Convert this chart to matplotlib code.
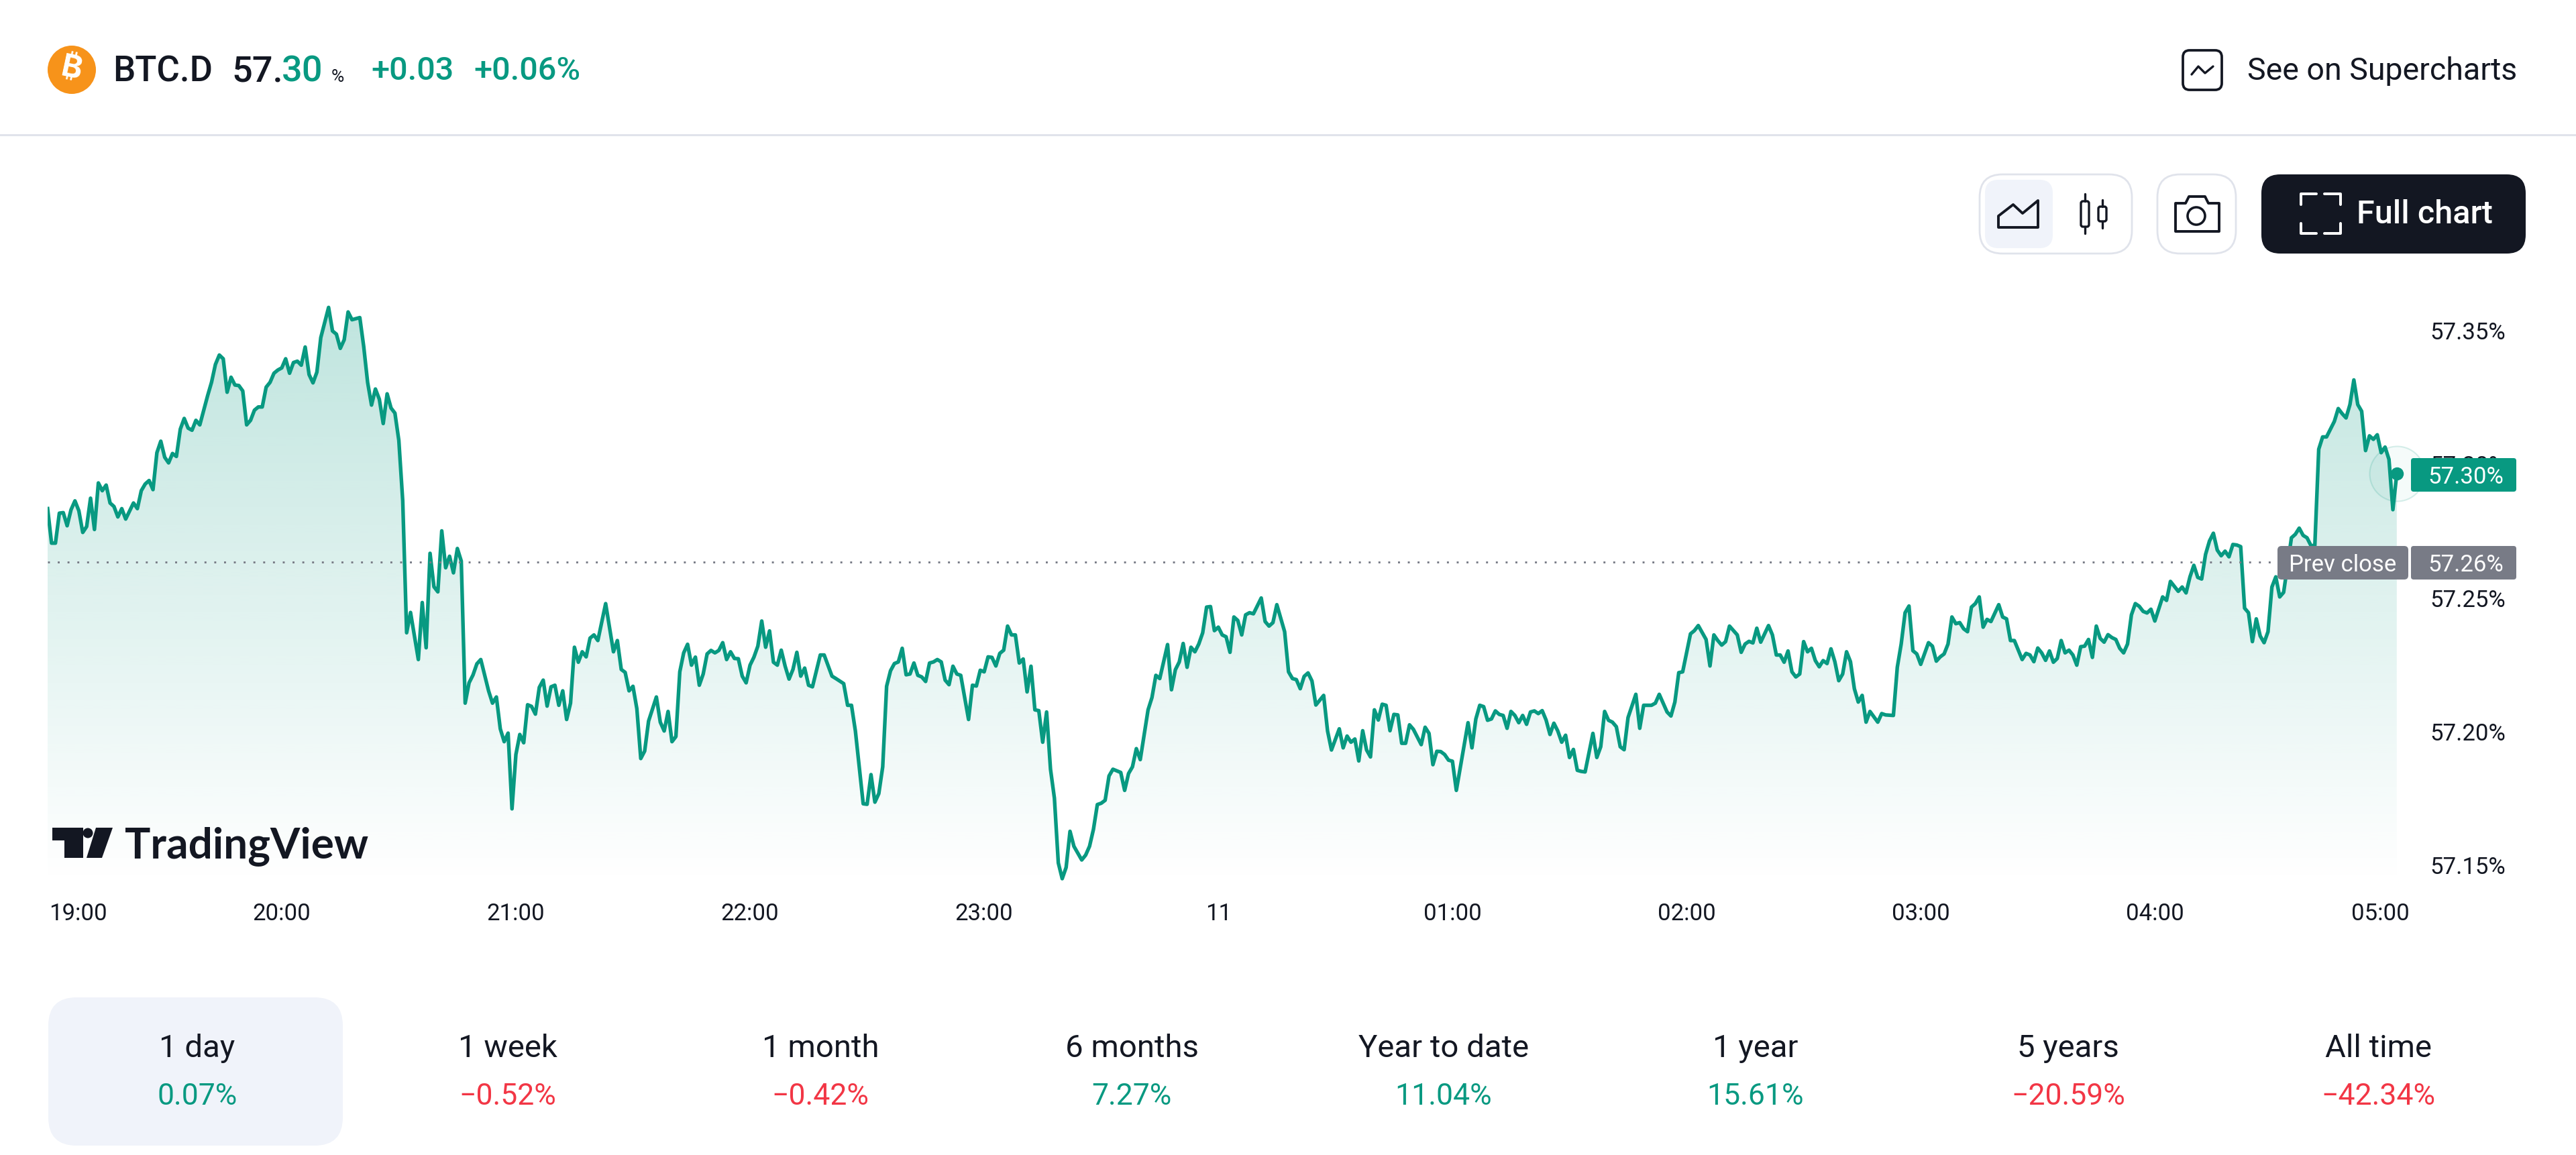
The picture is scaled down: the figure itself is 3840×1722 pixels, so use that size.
import matplotlib
matplotlib.use("Agg")
import numpy as np
import matplotlib.pyplot as plt
from matplotlib.patches import Circle, FancyBboxPatch, Polygon
from matplotlib.transforms import ScaledTranslation

W, H = 3840, 1722
GREEN = "#089981"
RED = "#f23645"
INK = "#131722"
GREY = "#787b86"
BORDER = "#e0e3eb"
PANEL = "#f0f3fa"

plt.rcParams["font.family"] = ["Roboto", "DejaVu Sans"]

# minutes since 19:00
minutes = [
    0, 1, 2, 3, 4, 5, 6, 7, 8, 9, 10, 11, 12, 13, 14, 15, 16, 17, 18, 19, 20, 22, 23, 24, 25, 26, 27, 28, 29, 30,
    31, 32, 33, 34, 35, 36, 37, 38, 39, 40, 41, 42, 43, 44, 45, 46, 47, 48, 49, 50, 51, 52, 53, 54, 55, 56, 57, 58, 59, 60,
    61, 62, 63, 64, 65, 66, 67, 68, 69, 70, 72, 73, 74, 75, 76, 77, 78, 80, 81, 82, 83, 84, 85, 86, 87, 88, 89, 90, 91,
    92, 93, 95, 96, 97, 98, 99, 100, 101, 102, 103, 104, 105, 106, 107, 108, 109, 110, 111, 113, 114, 115, 116, 117, 118, 119, 120,
    121, 122, 123, 124, 125, 126, 127, 128, 129, 130, 131, 132, 133, 134, 135, 136, 137, 138, 139, 140, 141, 143, 145, 146, 147, 148, 149, 150,
    151, 152, 153, 154, 156, 157, 158, 159, 160, 161, 162, 163, 164, 165, 166, 167, 168, 169, 170, 171, 172, 173, 174, 175, 176, 177, 178, 179, 180,
    181, 182, 183, 184, 185, 186, 187, 188, 189, 190, 191, 192, 193, 194, 195, 196, 198, 199, 201, 202, 204, 205, 206, 207, 209, 210,
    211, 212, 213, 214, 215, 216, 217, 218, 219, 220, 221, 222, 223, 224, 225, 226, 227, 228, 229, 230, 231, 232, 233, 234, 236, 237, 238, 239, 240,
    241, 242, 243, 244, 245, 246, 247, 248, 249, 250, 251, 252, 253, 254, 255, 256, 257, 258, 259, 260, 261, 262, 263, 265, 266, 267, 268, 269, 270,
    271, 272, 273, 275, 276, 277, 278, 279, 280, 282, 283, 284, 285, 287, 288, 289, 290, 291, 292, 293, 294, 295, 296, 297, 298, 299, 300,
    301, 302, 303, 304, 305, 306, 307, 308, 309, 311, 312, 313, 314, 315, 317, 318, 319, 320, 321, 322, 323, 324, 325, 327, 328, 329, 331,
    332, 333, 334, 335, 336, 337, 338, 339, 340, 341, 342, 343, 344, 345, 346, 347, 348, 349, 350, 352, 353, 354, 355, 356, 357, 358, 359, 360,
    361, 364, 365, 366, 367, 368, 369, 370, 371, 372, 373, 374, 375, 376, 377, 378, 379, 380, 381, 382, 383, 384, 385, 386, 387, 388, 389, 390,
    391, 392, 393, 394, 396, 397, 398, 399, 400, 401, 402, 403, 404, 405, 407, 408, 409, 411, 412, 413, 415, 416, 417, 418, 419, 421, 422, 423, 425, 426, 427, 428, 429, 430,
    431, 433, 434, 435, 436, 437, 438, 439, 441, 442, 443, 444, 445, 446, 447, 448, 449, 450, 451, 452,
    453, 454, 455, 456, 457, 458, 459, 460, 461, 462, 463, 464, 465, 466, 467, 469, 470, 471, 473, 474, 475, 476, 477, 478, 479, 480,
    482, 483, 484, 485, 486, 487, 488, 489, 490, 491, 492, 493, 494, 495, 496, 497, 498, 500, 501, 502, 503, 504, 506, 507, 508, 509, 510,
    511, 512, 513, 514, 515, 516, 517, 518, 519, 520, 521, 522, 523, 524, 525, 526, 527, 528, 529, 530, 531, 532, 533, 534, 535, 536, 537, 538, 539, 540,
    542, 543, 544, 546, 547, 548, 549, 550, 551, 552, 553, 554, 555, 556, 557, 558, 559, 560, 561, 562, 563, 564, 565, 566, 567, 568, 569, 570,
    571, 572, 573, 574, 575, 576, 577, 578, 579, 580, 581, 582, 583, 584, 585, 586, 587, 588, 589, 590, 591, 592, 593, 594, 595, 596, 597, 598, 599, 600, 601, 602,
]

# BTC dominance, percent
dominance = [
    57.2834, 57.2705, 57.2705, 57.2817, 57.2819, 57.2770, 57.2830, 57.2863, 57.2826, 57.2745, 57.2767, 57.2873, 57.2756, 57.2930, 57.2901, 57.2922, 57.2855, 57.2842, 57.2803, 57.2834, 57.2795, 57.2855, 57.2834, 57.2901, 57.2926, 57.2939, 57.2905, 57.3043, 57.3086, 57.3026,
    57.3005, 57.3040, 57.3029, 57.3131, 57.3171, 57.3135, 57.3127, 57.3164, 57.3147, 57.3202, 57.3256, 57.3306, 57.3373, 57.3408, 57.3394, 57.3269, 57.3325, 57.3296, 57.3294, 57.3274, 57.3147, 57.3164, 57.3202, 57.3214, 57.3214, 57.3288, 57.3306, 57.3340, 57.3352, 57.3360,
    57.3394, 57.3340, 57.3380, 57.3385, 57.3370, 57.3438, 57.3335, 57.3304, 57.3344, 57.3473, 57.3586, 57.3498, 57.3486, 57.3433, 57.3465, 57.3569, 57.3540, 57.3548, 57.3440, 57.3306, 57.3221, 57.3281, 57.3243, 57.3152, 57.3263, 57.3210, 57.3191, 57.3089, 57.2863,
    57.2370, 57.2446, 57.2270, 57.2483, 57.2314, 57.2667, 57.2542, 57.2523, 57.2751, 57.2613, 57.2656, 57.2594, 57.2685, 57.2638, 57.2107, 57.2183, 57.2212, 57.2254, 57.2270, 57.2153, 57.2107, 57.2130, 57.2011, 57.1963, 57.1995, 57.1712, 57.1915,
    57.1990, 57.1959, 57.2101, 57.2095, 57.2066, 57.2166, 57.2193, 57.2096, 57.2168, 57.2174, 57.2099, 57.2153, 57.2046, 57.2107, 57.2316, 57.2260, 57.2299, 57.2280, 57.2350, 57.2362, 57.2341, 57.2479, 57.2299, 57.2341, 57.2233, 57.2222, 57.2153, 57.2170,
    57.2086, 57.1900, 57.1928, 57.2040, 57.2130, 57.2036, 57.2003, 57.2076, 57.1963, 57.1982, 57.2224, 57.2295, 57.2327, 57.2249, 57.2279, 57.2174, 57.2216, 57.2291, 57.2304, 57.2295, 57.2304, 57.2333, 57.2270, 57.2299, 57.2274, 57.2273, 57.2208, 57.2183, 57.2249,
    57.2279, 57.2320, 57.2414, 57.2316, 57.2377, 57.2260, 57.2249, 57.2305, 57.2245, 57.2197, 57.2233, 57.2297, 57.2208, 57.2238, 57.2174, 57.2168, 57.2287, 57.2287, 57.2208, 57.2199, 57.2180, 57.2099, 57.2099, 57.2003, 57.1731, 57.1729,
    57.1840, 57.1737, 57.1769, 57.1869, 57.2170, 57.2228, 57.2255, 57.2261, 57.2312, 57.2213, 57.2216, 57.2257, 57.2211, 57.2205, 57.2188, 57.2257, 57.2261, 57.2270, 57.2261, 57.2193, 57.2176, 57.2245, 57.2216, 57.2211, 57.2046, 57.2174, 57.2171, 57.2230, 57.2224,
    57.2280, 57.2278, 57.2246, 57.2293, 57.2305, 57.2395, 57.2362, 57.2362, 57.2257, 57.2272, 57.2149, 57.2245, 57.2082, 57.2079, 57.1961, 57.2074, 57.1860, 57.1752, 57.1510, 57.1451, 57.1493, 57.1628, 57.1572, 57.1521, 57.1539, 57.1572, 57.1635, 57.1728, 57.1733,
    57.1744, 57.1835, 57.1860, 57.1848, 57.1781, 57.1844, 57.1869, 57.1937, 57.1896, 57.2082, 57.2128, 57.2211, 57.2199, 57.2326, 57.2157, 57.2232, 57.2261, 57.2330, 57.2241, 57.2316, 57.2299, 57.2328, 57.2370, 57.2466, 57.2468, 57.2378, 57.2391,
    57.2362, 57.2355, 57.2297, 57.2429, 57.2416, 57.2362, 57.2437, 57.2445, 57.2441, 57.2500, 57.2412, 57.2395, 57.2408, 57.2475, 57.2374, 57.2224, 57.2199, 57.2195, 57.2161, 57.2207, 57.2220, 57.2190, 57.2100, 57.2136, 57.2003, 57.1932, 57.2011,
    57.1940, 57.1984, 57.1961, 57.1973, 57.1891, 57.2004, 57.1932, 57.1906, 57.2082, 57.2044, 57.2103, 57.2099, 57.2004, 57.2065, 57.2063, 57.1957, 57.1957, 57.2026, 57.2009, 57.1952, 57.2017, 57.1994, 57.1877, 57.1927, 57.1926, 57.1915, 57.1894, 57.1890,
    57.1781, 57.2034, 57.1940, 57.2048, 57.2099, 57.2094, 57.2043, 57.2048, 57.2078, 57.2065, 57.2061, 57.2013, 57.2076, 57.2061, 57.2034, 57.2061, 57.2028, 57.2074, 57.2078, 57.2068, 57.2079, 57.2044, 57.1990, 57.2032, 57.2003, 57.1961, 57.1987, 57.1904,
    57.1934, 57.1856, 57.1852, 57.1850, 57.1994, 57.1904, 57.1944, 57.2076, 57.2043, 57.2036, 57.2019, 57.1944, 57.1933, 57.2053, 57.2140, 57.2013, 57.2099, 57.2099, 57.2107, 57.2140, 57.2074, 57.2059, 57.2111, 57.2221, 57.2224, 57.2366, 57.2378, 57.2397, 57.2345, 57.2246, 57.2362, 57.2341, 57.2324, 57.2337,
    57.2395, 57.2362, 57.2297, 57.2328, 57.2338, 57.2332, 57.2387, 57.2335, 57.2397, 57.2362, 57.2287, 57.2287, 57.2260, 57.2302, 57.2224, 57.2205, 57.2216, 57.2337, 57.2299, 57.2312,
    57.2266, 57.2243, 57.2266, 57.2255, 57.2310, 57.2262, 57.2191, 57.2216, 57.2299, 57.2262, 57.2161, 57.2111, 57.2136, 57.2036, 57.2076, 57.2036, 57.2068, 57.2063, 57.2061, 57.2241, 57.2328, 57.2445, 57.2470, 57.2303, 57.2291, 57.2252,
    57.2333, 57.2320, 57.2264, 57.2280, 57.2291, 57.2328, 57.2429, 57.2404, 57.2408, 57.2385, 57.2374, 57.2466, 57.2479, 57.2504, 57.2391, 57.2420, 57.2412, 57.2475, 57.2429, 57.2422, 57.2341, 57.2341, 57.2270, 57.2293, 57.2287, 57.2262, 57.2313,
    57.2295, 57.2267, 57.2302, 57.2260, 57.2274, 57.2341, 57.2295, 57.2305, 57.2287, 57.2249, 57.2318, 57.2320, 57.2345, 57.2278, 57.2395, 57.2349, 57.2335, 57.2363, 57.2352, 57.2345, 57.2312, 57.2295, 57.2328, 57.2437, 57.2479, 57.2469, 57.2450, 57.2444, 57.2458, 57.2414,
    57.2504, 57.2491, 57.2562, 57.2525, 57.2541, 57.2519, 57.2579, 57.2622, 57.2577, 57.2571, 57.2663, 57.2713, 57.2742, 57.2679, 57.2658, 57.2675, 57.2654, 57.2700, 57.2698, 57.2692, 57.2462, 57.2445, 57.2337, 57.2422, 57.2358, 57.2333, 57.2374, 57.2541,
    57.2579, 57.2504, 57.2521, 57.2621, 57.2725, 57.2738, 57.2761, 57.2734, 57.2725, 57.2696, 57.2696, 57.3056, 57.3102, 57.3102, 57.3131, 57.3160, 57.3208, 57.3189, 57.3173, 57.3223, 57.3315, 57.3223, 57.3198, 57.3051, 57.3106, 57.3093, 57.3110, 57.3043, 57.3064, 57.3018, 57.2830, 57.2964,
]

prev_close = 57.2633
y_ticks = [57.15, 57.20, 57.25, 57.30, 57.35]
x_ticks = [0, 60, 120, 180, 240, 300, 360, 420, 480, 540, 600]
x_tick_labels = ["19:00", "20:00", "21:00", "22:00", "23:00", "11", "01:00", "02:00", "03:00", "04:00", "05:00"]

periods = ["1 day", "1 week", "1 month", "6 months", "Year to date", "1 year", "5 years", "All time"]
period_changes = [0.07, -0.52, -0.42, 7.27, 11.04, 15.61, -20.59, -42.34]
period_centers = [294, 757, 1223, 1687, 2152, 2617, 3083, 3545]

fig = plt.figure(figsize=(W / 100, H / 100), dpi=100, facecolor="white")

# price pane, placed in pixels
left, right, top, bottom = 71, 3610, 430, 1320
ax = fig.add_axes([left / W, 1 - bottom / H, (right - left) / W, (bottom - top) / H])
ax.set_facecolor("none")
for s in ax.spines.values():
    s.set_visible(False)
ax.set_xlim(0, (right - left) / 5.817)
ax.set_ylim(57.1426, 57.3657)
xlim, ylim = ax.get_xlim(), ax.get_ylim()

# area fill: vertical gradient clipped to the region under the line
area = ax.fill_between(minutes, dominance, ylim[0], color="none")
grad = np.zeros((256, 1, 4))
grad[..., :3] = matplotlib.colors.to_rgb(GREEN)
grad[:, 0, 3] = np.linspace(0.266, 0.0, 256)
im = ax.imshow(grad, extent=[minutes[0], minutes[-1], ylim[0], ylim[1]], aspect="auto", origin="upper",
               interpolation="bilinear", zorder=1)
im.set_clip_path(area.get_paths()[0], transform=ax.transData)
ax.set_xlim(xlim)
ax.set_ylim(ylim)

ax.plot(minutes, dominance, color=GREEN, lw=3.9, solid_joinstyle="round", zorder=3)
ax.axhline(prev_close, color=GREY, lw=2.1, linestyle=(0, (1, 4)), dash_capstyle="butt", zorder=4)

# last value dot with its pale pulse ring
ax.plot(minutes[-1], dominance[-1], "o", ms=59, mfc=GREEN + "0a", mec=GREEN + "28", mew=1.5, clip_on=False, zorder=2)
ax.plot(minutes[-1], dominance[-1], "o", ms=13, color=GREEN, clip_on=False, zorder=5)

ax.yaxis.tick_right()
ax.set_yticks(y_ticks, [f"{v:.2f}%" for v in y_ticks])
ax.set_xticks(x_ticks, x_tick_labels)
ax.tick_params(axis="both", length=0, labelsize=25, labelcolor=INK)
ax.tick_params(axis="y", pad=9)
ax.tick_params(axis="x", pad=19)

# edge labels are pulled inward
xlabels = ax.get_xticklabels()
xlabels[0].set_transform(xlabels[0].get_transform() + ScaledTranslation(0.45, 0, fig.dpi_scale_trans))
xlabels[-1].set_transform(xlabels[-1].get_transform() + ScaledTranslation(-0.13, 0, fig.dpi_scale_trans))

# page furniture in pixel coordinates
ui = fig.add_axes([0, 0, 1, 1], zorder=5)
ui.set_xlim(0, W)
ui.set_ylim(H, 0)
ui.axis("off")


def box(x0, y0, x1, y1, r, fc="none", ec="none", lw=0, z=1):
    ui.add_patch(FancyBboxPatch((x0, y0), x1 - x0, y1 - y0, boxstyle=f"round,pad=0,rounding_size={r}",
                                fc=fc, ec=ec, lw=lw, zorder=z))


def stroke(xs, ys, color=INK, lw=2.4):
    ui.plot(xs, ys, color=color, lw=lw, solid_capstyle="round", solid_joinstyle="round", zorder=3)


# header
ui.plot([0, W], [201, 201], color=BORDER, lw=2.2)
ui.add_patch(Circle((107, 104), 36, fc="#f7931a", ec="none"))
ui.text(107, 104, "\u20bf", color="white", fontsize=34, fontweight="bold",
        family=["Inter", "Noto Sans", "Lato", "Open Sans", "DejaVu Sans"],
        ha="center", va="center", rotation=-12)
ui.text(168, 122, "BTC.D", color=INK, fontsize=38, fontweight="medium", va="baseline")
ui.text(345, 122, "57.", color=INK, fontsize=39, fontweight="medium", va="baseline")
ui.text(420, 122, "30", color=GREEN, fontsize=39, fontweight="medium", va="baseline")
ui.text(494, 122, "%", color=INK, fontsize=19, va="baseline")
ui.text(553, 119, "+0.03", color=GREEN, fontsize=35, fontweight="medium", va="baseline")
ui.text(706, 119, "+0.06%", color=GREEN, fontsize=35, fontweight="medium", va="baseline")

box(3254, 75, 3312, 134, 10, ec=INK, lw=2.7)
stroke([3267, 3277, 3287, 3299], [111, 99, 109, 99], lw=2.4)
ui.text(3350, 119, "See on Supercharts", color=INK, fontsize=33.5, va="baseline")

# chart type and snapshot buttons
box(2951, 260, 3178, 378, 34, fc="white", ec=BORDER, lw=2)
box(2959, 268, 3060, 370, 20, fc=PANEL)
ui.add_patch(Polygon([(2979, 339), (2979, 322), (3001, 305), (3015, 318), (3038, 299), (3038, 339)], closed=True,
                     fc="none", ec=INK, lw=2.8, joinstyle="round", zorder=3))
stroke([3108, 3108], [289, 300])
stroke([3108, 3108], [338, 348])
box(3102, 300, 3114, 338, 3, ec=INK, lw=2.4, z=3)
stroke([3134, 3134], [298, 308])
stroke([3134, 3134], [330, 340])
box(3128, 308, 3140, 330, 3, ec=INK, lw=2.4, z=3)
box(3216, 260, 3333, 378, 34, fc="white", ec=BORDER, lw=2)
ui.add_patch(Polygon([(3243, 303), (3258, 303), (3263, 293), (3287, 293), (3292, 303), (3308, 303), (3308, 345), (3243, 345)],
                     closed=True, fc="none", ec=INK, lw=2.8, joinstyle="round", zorder=3))
ui.add_patch(Circle((3274, 322), 13, fc="none", ec=INK, lw=2.6, zorder=3))

box(3371, 260, 3765, 378, 28, fc=INK)
stroke([3430, 3430, 3453], [305, 289, 289], color="white", lw=2.9)
stroke([3465, 3489, 3489], [289, 289, 305], color="white", lw=2.9)
stroke([3430, 3430, 3453], [333, 348, 348], color="white", lw=2.9)
stroke([3465, 3489, 3489], [348, 348, 333], color="white", lw=2.9)
ui.text(3513, 333, "Full chart", color="white", fontsize=35, fontweight="medium", va="baseline")

# price scale labels
box(3594, 683, 3751, 733, 4, fc=GREEN)
ui.text(3732, 708, f"{dominance[-1]:.2f}%", color="white", fontsize=25, ha="right", va="center_baseline", zorder=3)
box(3395, 814, 3590, 864, 6, fc=GREY)
box(3594, 814, 3751, 864, 4, fc=GREY)
ui.text(3492, 839, "Prev close", color="white", fontsize=25, ha="center", va="center_baseline", zorder=3)
ui.text(3732, 839, f"{prev_close:.2f}%", color="white", fontsize=25, ha="right", va="center_baseline", zorder=3)

# TradingView watermark
ui.add_patch(Polygon([(78, 1234), (124, 1234), (124, 1279), (96, 1279), (96, 1253), (78, 1253)], closed=True, fc=INK, ec="none"))
ui.add_patch(Circle((131, 1242), 7.5, fc=INK, ec="none"))
ui.add_patch(Polygon([(143, 1234), (168, 1234), (152, 1279), (129, 1279)], closed=True, fc=INK, ec="none"))
ui.text(186, 1279, "TradingView", color=INK, fontsize=46, fontweight="bold", family="Lato", va="baseline")

# period performance row
box(72, 1487, 511, 1708, 42, fc=PANEL)
for label, change, cx in zip(periods, period_changes, period_centers):
    text = f"{change:.2f}%".replace("-", "\u2212")
    ui.text(cx, 1576, label, color=INK, fontsize=34, ha="center", va="baseline")
    ui.text(cx, 1647, text, color=GREEN if change >= 0 else RED, fontsize=32, ha="center", va="baseline")

fig.savefig("out.png", dpi=100)
